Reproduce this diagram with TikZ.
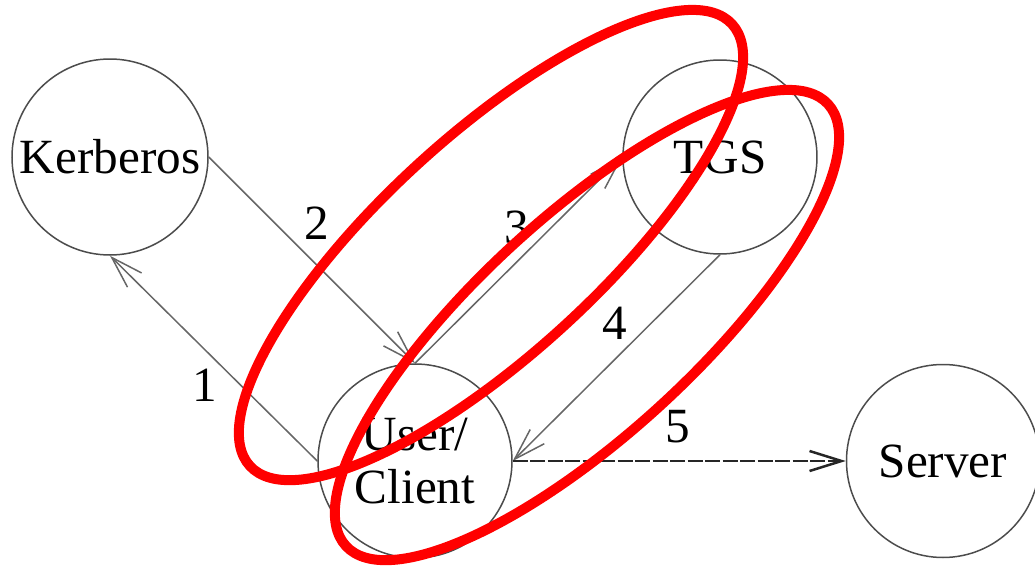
\documentclass[tikz,border=0pt]{standalone}
\usepackage{fontspec}
\setmainfont{Liberation Serif}
\usetikzlibrary{arrows.meta}
\usetikzlibrary{math}

\begin{document}
\begin{tikzpicture}[line width=0.15mm,
  >={Straight Barb[length=3.2mm,width=2mm]},
  party/.style={circle,draw=black!70,minimum size=1.94cm,inner sep=0pt,
    font=\fontsize{14}{15}\selectfont,align=center},
  msg/.style={draw=black!60,->},
  num/.style={font=\fontsize{14}{15}\selectfont,inner sep=0pt},
  ring/.style={draw=red,line width=1mm}]

  \tikzmath{
    \ra  = 3.27; % half length of the red rings
    \rb  = 1.09; % half width of the red rings
    \rot = 42.5; % tilt of the red rings
  }

  \useasboundingbox (0,0) rectangle (10.35,5.65);

  % the four parties
  \node[party, minimum size=1.96cm] (kerb) at (1.10,4.08) {Kerberos};
  \node[party] (tgs)    at (7.20,4.08) {TGS};
  \node[party] (user)   at (4.15,1.04) {User/\\Client};
  \node[party, minimum size=1.93cm] (server) at (9.43,1.04) {Server};

  % messages
  \draw[msg] (user.west)  -- (kerb.south);
  \draw[msg] (kerb.east)  -- (user.north);
  \draw[msg] (user.north) -- (tgs.west);
  \draw[msg] (tgs.south)  -- (user.east);
  \draw[msg, draw=black!85, line width=0.25mm, dash pattern=on 1.5mm off 0.25mm]
    (user.east) -- (server.west);

  % message numbers
  \node[num] (n1) at (2.05,1.80) {1};
  \node[num] (n2) at (3.17,3.42) {2};
  \node[num] (n3) at (5.17,3.38) {3};
  \node[num] (n4) at (6.15,2.42) {4};
  \node[num] (n5) at (6.78,1.38) {5};

  % red rings round the exchanges 2-3 and 3-4
  \coordinate (R1) at (4.91,3.20);
  \coordinate (R2) at (5.87,2.40);
  \draw[ring, rotate around={\rot:(R1)}] (R1) ellipse ({\ra} and {\rb});
  \draw[ring, rotate around={\rot:(R2)}] (R2) ellipse ({\ra} and {\rb});

\end{tikzpicture}
\end{document}
